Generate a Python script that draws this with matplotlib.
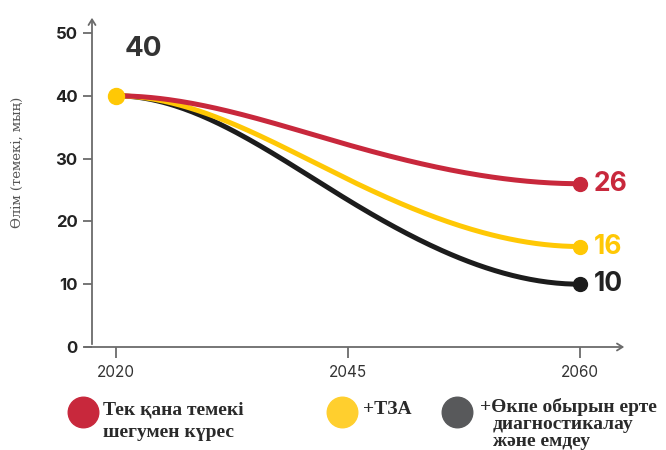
import numpy as np
import matplotlib.pyplot as plt
from matplotlib.lines import Line2D

years = ['2020', '2045', '2060']
red_vals = [40, 32.2, 26]
yellow_vals = [40, 26.7, 16]
black_vals = [40, 23.4, 10]
y_ticks = [0, 10, 20, 30, 40, 50]

red = '#C8283C'
yellow = '#FFC805'
black = '#1C1C1C'
axis_col = '#6b6b6b'


def smooth(vals, n=80, tension=1.5):
    # cubic hermite, flat at both ends, steeper through the middle
    v = np.array(vals, dtype=float)
    x = np.arange(len(v), dtype=float)
    m = np.zeros(len(v))
    for i in range(1, len(v) - 1):
        m[i] = tension * (v[i + 1] - v[i - 1]) / 2
    xs, ys = [], []
    for i in range(len(v) - 1):
        t = np.linspace(0, 1, n)
        h00 = 2 * t**3 - 3 * t**2 + 1
        h10 = t**3 - 2 * t**2 + t
        h01 = -2 * t**3 + 3 * t**2
        h11 = t**3 - t**2
        xs.append(x[i] + t)
        ys.append(h00 * v[i] + h10 * m[i] + h01 * v[i + 1] + h11 * m[i + 1])
    return np.concatenate(xs), np.concatenate(ys)


fig = plt.figure(figsize=(6.66, 4.5), dpi=100)
ax = fig.add_axes([92 / 666, 1 - 347 / 450, 535 / 666, 332 / 450])
ax.set_xlim(-24 / 232, 2 + 47 / 232)
ax.set_ylim(0, 50 + 18 / 6.28)

for vals, col in [(black_vals, black), (yellow_vals, yellow), (red_vals, red)]:
    xs, ys = smooth(vals)
    ax.plot(xs, ys, color=col, lw=3.6, solid_capstyle='round', zorder=3)
    ax.plot([2], [vals[-1]], 'o', ms=10, color=col, zorder=4)
    ax.text(2.06, vals[-1], str(int(vals[-1])), color=col if col != black else '#222222',
            fontsize=19, fontweight='bold', family='Inter', va='center', ha='left')

ax.plot([0], [yellow_vals[0]], 'o', ms=11.5, color=yellow, zorder=5)
ax.text(0.039, 47.5, str(red_vals[0]), fontsize=20, fontweight='bold', family='Inter',
        color='#333333', va='center', ha='left')

for s in ax.spines.values():
    s.set_visible(False)

ax.annotate('', xy=(0, 1), xytext=(0, 0), xycoords='axes fraction',
            arrowprops=dict(arrowstyle='->,head_length=0.4,head_width=0.25', color=axis_col, lw=1.3))
ax.annotate('', xy=(1, 0), xytext=(-10 / 535, 0), xycoords='axes fraction',
            arrowprops=dict(arrowstyle='->,head_length=0.4,head_width=0.25', color=axis_col, lw=1.3))

ax.set_xticks(range(len(years)))
ax.set_xticklabels(years)
ax.set_yticks(y_ticks)
ax.tick_params(axis='y', length=6.5, width=1.3, color=axis_col, pad=4,
               labelsize=12, labelcolor='#222222')
ax.tick_params(axis='x', length=8, width=1.3, color=axis_col, pad=5,
               labelsize=11, labelcolor='#333333')
for lab in ax.get_yticklabels():
    lab.set_fontweight('bold')
    lab.set_family('Inter')
for lab in ax.get_xticklabels():
    lab.set_family('Inter')

fig.text(17 / 666, 1 - 162 / 450, 'Өлім (темекі, мың)', rotation=90, ha='center', va='center',
         fontsize=9.5, color='#555555', family='DejaVu Serif')


# legend
def px(x, y):
    return x / 666, 1 - y / 450


for (cx, col) in [(83, red), (342, '#FFCF2E'), (457, '#58595B')]:
    fig.add_artist(Line2D([px(cx, 412)[0]], [px(cx, 412)[1]], marker='o', ms=22,
                          color=col, transform=fig.transFigure))

leg_font = dict(fontsize=14, fontweight='bold', family='Liberation Serif', color='#2a2a2a',
                va='baseline', ha='left')
fig.text(*px(103, 414), 'Тек қана темекі', **leg_font)
fig.text(*px(103, 437), 'шегумен күрес', **leg_font)
fig.text(*px(363, 414), '+ТЗА', **leg_font)
fig.text(*px(480, 412), '+Өкпе обырын ерте', **leg_font)
fig.text(*px(493, 429), 'диагностикалау', **leg_font)
fig.text(*px(493, 446), 'жəне емдеу', **leg_font)

fig.savefig('out.png', dpi=100)
